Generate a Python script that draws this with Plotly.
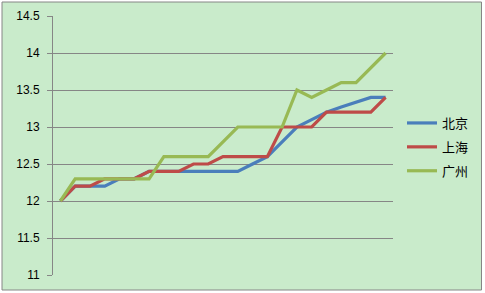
import plotly.graph_objects as go

categories = [str(i) for i in range(1, 24)]
beijing = [12.0, 12.2, 12.2, 12.2, 12.3, 12.3, 12.4, 12.4, 12.4, 12.4, 12.4, 12.4, 12.4,
           12.5, 12.6, 12.8, 13.0, 13.1, 13.2, 13.27, 13.33, 13.4, 13.4]
shanghai = [12.0, 12.2, 12.2, 12.3, 12.3, 12.3, 12.4, 12.4, 12.4, 12.5, 12.5, 12.6, 12.6,
            12.6, 12.6, 13.0, 13.0, 13.0, 13.2, 13.2, 13.2, 13.2, 13.4]
guangzhou = [12.0, 12.3, 12.3, 12.3, 12.3, 12.3, 12.3, 12.6, 12.6, 12.6, 12.6, 12.8, 13.0,
             13.0, 13.0, 13.0, 13.5, 13.4, 13.5, 13.6, 13.6, 13.8, 14.0]
series_names = ["北京", "上海", "广州"]
y_ticks = [11, 11.5, 12, 12.5, 13, 13.5, 14, 14.5]
y_tick_text = ["11", "11.5", "12", "12.5", "13", "13.5", "14", "14.5"]

colors = ["#4A7EBB", "#BE4B48", "#98B954"]
W, H = 485, 293
L, R, T, B = 53, 92, 16, 18
pw, ph = W - L - R, H - T - B

fig = go.Figure()
for name, vals, c in zip(series_names, [beijing, shanghai, guangzhou], colors):
    fig.add_trace(go.Scatter(x=categories, y=vals, mode="lines", name=name,
                             legendgroup=name,
                             line=dict(color=c, width=3.2), hoverinfo="skip"))

def px_x(x):
    return (x - L) / pw

def px_y(y):
    return (H - B - y) / ph

fig.add_shape(type="rect", xref="paper", yref="paper",
              x0=px_x(2), x1=px_x(481.5), y0=px_y(290), y1=px_y(2),
              fillcolor="#C9EBCB", line=dict(color="#868686", width=1), layer="below")

fig.update_layout(
    width=W, height=H,
    margin=dict(l=L, r=R, t=T, b=B, pad=0, autoexpand=False),
    paper_bgcolor="white",
    plot_bgcolor="rgba(0,0,0,0)",
    showlegend=True,
    legend=dict(x=px_x(402), y=px_y(147), xanchor="left", yanchor="middle",
                font=dict(family="Noto Sans CJK SC", size=13, color="black"),
                bgcolor="rgba(0,0,0,0)", tracegroupgap=4, traceorder="grouped"),
    xaxis=dict(type="category", range=[-0.5, len(categories) - 0.5],
               showgrid=False, showticklabels=False, showline=False, zeroline=False,
               ticks=""),
    yaxis=dict(range=[11, 14.5], tickvals=y_ticks, ticktext=y_tick_text,
               showgrid=True, gridcolor="#868686", gridwidth=1,
               showline=True, linecolor="#868686", linewidth=1,
               ticks="outside", ticklen=5, tickcolor="#868686",
               ticklabelstandoff=5,
               zeroline=False,
               tickfont=dict(family="Liberation Sans", size=12, color="black")),
)

fig.write_html("out.html")
